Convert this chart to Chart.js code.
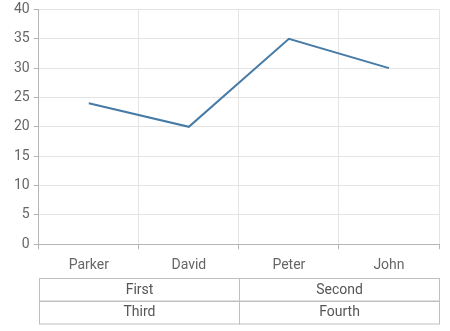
<!DOCTYPE html>
<html>
<head>
<meta charset="utf-8">
<script src="https://cdn.jsdelivr.net/npm/chart.js@4/dist/chart.umd.min.js"></script>
<style>
  body { margin: 0; background: #fff; overflow: hidden; }
  #wrap { width: 450px; height: 334px; position: relative; margin-top: -3px; }
</style>
</head>
<body>
<div id="wrap"><canvas id="myChart"></canvas></div>
<script>
const names = ['Parker', 'David', 'Peter', 'John'];
const scores = [24, 20, 35, 30];
const groupRow1 = ['First', 'Second'];
const groupRow2 = ['Third', 'Fourth'];
const groupSpan = [2, 2];

const FONT = 'Roboto, "Noto Sans", sans-serif';

// draws the two-row group table under the category labels
const groupTable = {
    id: 'groupTable',
    afterDraw: function (chart) {
        const ctx = chart.ctx;
        const x = chart.scales.x;
        const area = chart.chartArea;
        const top = area.bottom + 34;
        const rowH = 22.5;
        const half = (x.getPixelForValue(1) - x.getPixelForValue(0)) / 2;
        ctx.save();
        ctx.strokeStyle = '#c0c0c0';
        ctx.lineWidth = 1;
        ctx.fillStyle = '#555';
        ctx.font = '14px ' + FONT;
        ctx.textAlign = 'center';
        ctx.textBaseline = 'middle';
        let start = 0;
        groupSpan.forEach(function (span, i) {
            const l = Math.round(x.getPixelForValue(start) - half) + 0.5;
            const r = Math.round(x.getPixelForValue(start + span - 1) + half) + 0.5;
            ctx.strokeRect(l, Math.round(top) + 0.5, r - l, rowH);
            ctx.strokeRect(l, Math.round(top + rowH) + 0.5, r - l, rowH);
            ctx.fillText(groupRow1[i], (l + r) / 2, top + rowH / 2 + 1);
            ctx.fillText(groupRow2[i], (l + r) / 2, top + rowH * 1.5 + 1);
            start += span;
        });
        ctx.restore();
    }
};

const config = {
    type: 'line',
    data: {
        labels: names,
        datasets: [{
            data: scores,
            borderColor: '#457ba6',
            borderWidth: 2,
            pointRadius: 0,
            tension: 0,
            fill: false
        }]
    },
    options: {
        responsive: true,
        maintainAspectRatio: false,
        animation: false,
        layout: { padding: { top: 0, right: 11, bottom: 49, left: 10 } },
        plugins: { legend: { display: false }, tooltip: { enabled: false } },
        scales: {
            x: {
                offset: true,
                grid: { offset: true, color: '#e4e4e4', tickColor: '#b5b5b5', tickLength: 5 },
                border: { color: '#b5b5b5' },
                ticks: { color: '#666', font: { family: FONT, size: 14 }, padding: 8 }
            },
            y: {
                min: 0,
                max: 40,
                grid: { color: '#e4e4e4', tickColor: '#b5b5b5', tickLength: 5 },
                border: { color: '#b5b5b5' },
                ticks: { stepSize: 5, color: '#666', font: { family: FONT, size: 14 }, padding: 4 }
            }
        }
    },
    plugins: [groupTable]
};

const myChart = new Chart(document.getElementById('myChart'), config);
</script>
</body>
</html>
